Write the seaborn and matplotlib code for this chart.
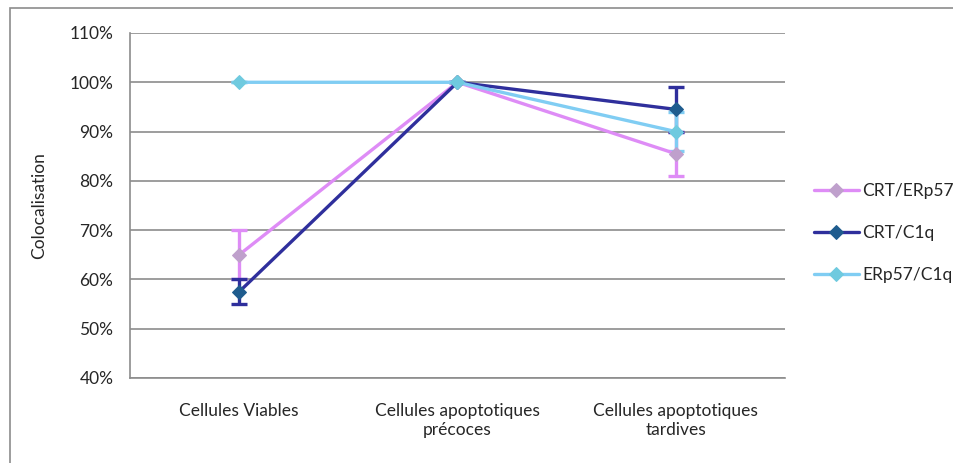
import matplotlib.pyplot as plt
import matplotlib.patches as mpatches
import numpy as np
import pandas as pd
import seaborn as sns

categories = ["Cellules Viables", "Cellules apoptotiques\nprécoces", "Cellules apoptotiques\ntardives"]
series = ["CRT/ERp57", "CRT/C1q", "ERp57/C1q"]
crt_erp57 = [65, 100, 85.5]
crt_erp57_err = [5, 0, 4.5]
crt_c1q = [57.5, 100, 94.5]
crt_c1q_err = [2.5, 0, 4.5]
erp57_c1q = [100, 100, 90]
erp57_c1q_err = [0, 0, 4]

values = [crt_erp57, crt_c1q, erp57_c1q]
errors = [crt_erp57_err, crt_c1q_err, erp57_c1q_err]
line_colors = ["#DE8CF6", "#2F2F9C", "#80CDF3"]
marker_colors = ["#BFA0CC", "#1F5C8E", "#6FCADF"]

rows = []
for s, v in zip(series, values):
    for c, y in zip(categories, v):
        rows.append({"cat": c, "serie": s, "val": y})
df = pd.DataFrame(rows)

sns.set_style("white")
plt.rcParams['font.family'] = ['Lato', 'DejaVu Sans']

fig = plt.figure(figsize=(9.54, 4.63), dpi=100)
ax = fig.add_axes([130 / 954, 1 - 378 / 463, 655 / 954, 345 / 463])

pos = np.arange(len(categories))
for s, v, e, lc, mc in zip(series, values, errors, line_colors, marker_colors):
    sub = df[df["serie"] == s]
    ax.errorbar(pos, v, yerr=e, fmt="none", ecolor=lc, elinewidth=2.4,
                capsize=5.5, capthick=2.4, zorder=2)
    sns.lineplot(x=pos, y=sub["val"].values, ax=ax, color=lc, lw=2.4,
                 marker="D", markersize=7, markerfacecolor=mc,
                 markeredgecolor=mc, label=s, zorder=3)

ax.set_xlim(-0.5, 2.5)
ax.set_ylim(40, 110)
ax.set_yticks(np.arange(40, 111, 10))
ax.set_yticklabels([f"{t}%" for t in range(40, 111, 10)], fontsize=12.5)
ax.yaxis.grid(True, color="#8C8C8C", lw=1.2)
ax.set_axisbelow(True)

ax.set_xticks([-0.5, 0.5, 1.5, 2.5])
ax.set_xticklabels([])
ax.set_xticks(pos, minor=True)
ax.set_xticklabels(categories, minor=True, fontsize=12.5)
ax.tick_params(axis="x", which="minor", length=0, pad=18)
ax.tick_params(axis="x", which="major", length=6, color="#8C8C8C", direction="out")
ax.tick_params(axis="y", length=8, color="#8C8C8C", direction="out", pad=4)

for side in ["top", "right"]:
    ax.spines[side].set_visible(False)
for side in ["left", "bottom"]:
    ax.spines[side].set_color("#8C8C8C")
    ax.spines[side].set_linewidth(1.2)

ax.set_xlabel("")
ax.set_ylabel("Colocalisation", fontsize=12.5, labelpad=16)

ax.legend(loc="center left", bbox_to_anchor=(1.02, 0.42), frameon=False,
          fontsize=12.5, handlelength=2.6, handletextpad=0.2, labelspacing=1.5)

fig.patches.append(mpatches.Rectangle((10 / 954, -0.05), 1.0, (463 - 8) / 463 + 0.05,
                                      transform=fig.transFigure, fill=False,
                                      edgecolor="#8C8C8C", lw=1.2))

fig.savefig("out.png", dpi=100)
